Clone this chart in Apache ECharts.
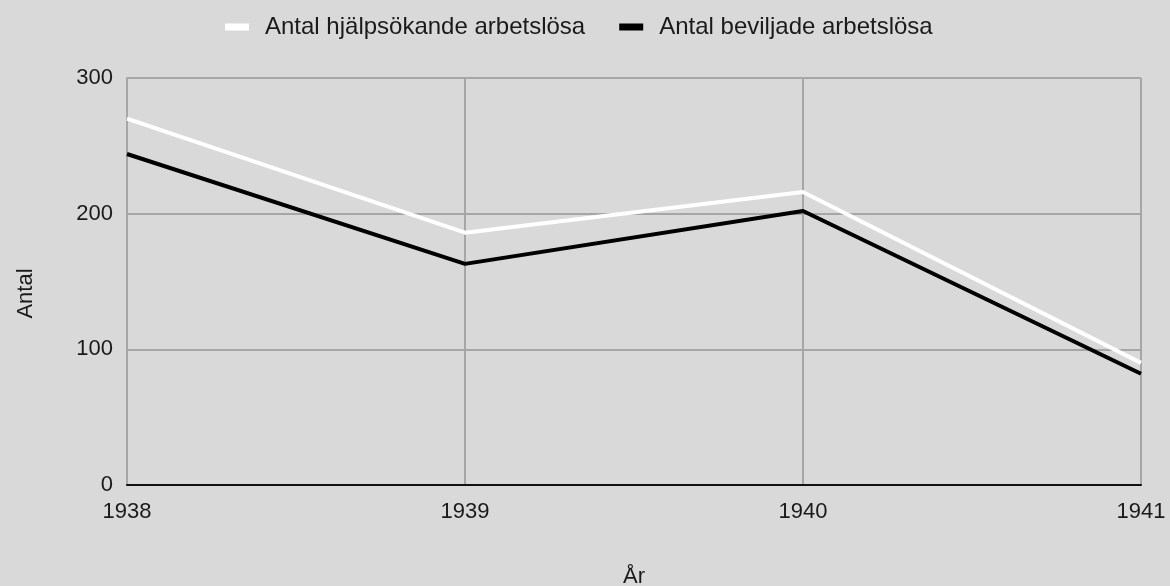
<!DOCTYPE html>
<html>
<head>
<meta charset="utf-8">
<script src="https://cdn.jsdelivr.net/npm/echarts@6/dist/echarts.min.js"></script>
<style>
  html, body { margin: 0; padding: 0; background: #d9d9d9; }
  #main { width: 1170px; height: 586px; }
</style>
</head>
<body>
<div id="main"></div>
<script>
// år och värden
var years = ["1938", "1939", "1940", "1941"];
var hjalpsokande = [270, 186, 216, 90];
var beviljade = [244, 163, 202, 82];
var yTicks = [0, 100, 200, 300];

var chart = echarts.init(document.getElementById("main"));
chart.setOption({
  backgroundColor: "#d9d9d9",
  textStyle: { fontFamily: "Liberation Sans, Arial, sans-serif" },
  legend: {
    top: 10,
    left: 220,
    itemWidth: 24,
    itemHeight: 7,
    itemGap: 34,
    icon: "rect",
    textStyle: { fontSize: 24, color: "#1a1a1a", padding: [0, 0, 0, 11] },
    data: ["Antal hjälpsökande arbetslösa", "Antal beviljade arbetslösa"]
  },
  grid: {
    left: 127, right: 29, top: 78, bottom: 101,
    containLabel: false,
    outerBoundsMode: "none"
  },
  xAxis: {
    type: "category",
    boundaryGap: false,
    data: years,
    name: "År",
    nameLocation: "middle",
    nameGap: 81,
    nameTextStyle: { fontSize: 22, color: "#1a1a1a" },
    axisLine: { lineStyle: { color: "#111", width: 2 } },
    axisTick: { show: false },
    axisLabel: { fontSize: 22, color: "#1a1a1a", margin: 16 },
    splitLine: { show: true, lineStyle: { color: "#a6a6a6", width: 2 } }
  },
  yAxis: {
    type: "value",
    min: yTicks[0],
    max: yTicks[yTicks.length - 1],
    interval: 100,
    name: "Antal",
    nameLocation: "middle",
    nameGap: 90,
    nameTextStyle: { fontSize: 22, color: "#1a1a1a", padding: [0, 0, 0, -24] },
    axisLine: { show: true, lineStyle: { color: "#a6a6a6", width: 2 } },
    axisTick: { show: false },
    axisLabel: { fontSize: 22, color: "#1a1a1a", margin: 14 },
    splitLine: { lineStyle: { color: "#a6a6a6", width: 2 } }
  },
  series: [
    {
      name: "Antal hjälpsökande arbetslösa",
      type: "line",
      data: hjalpsokande,
      symbol: "none",
      itemStyle: { color: "#ffffff" },
      lineStyle: { color: "#ffffff", width: 4 }
    },
    {
      name: "Antal beviljade arbetslösa",
      type: "line",
      data: beviljade,
      symbol: "none",
      itemStyle: { color: "#000000" },
      lineStyle: { color: "#000000", width: 4 }
    }
  ]
});
</script>
</body>
</html>
